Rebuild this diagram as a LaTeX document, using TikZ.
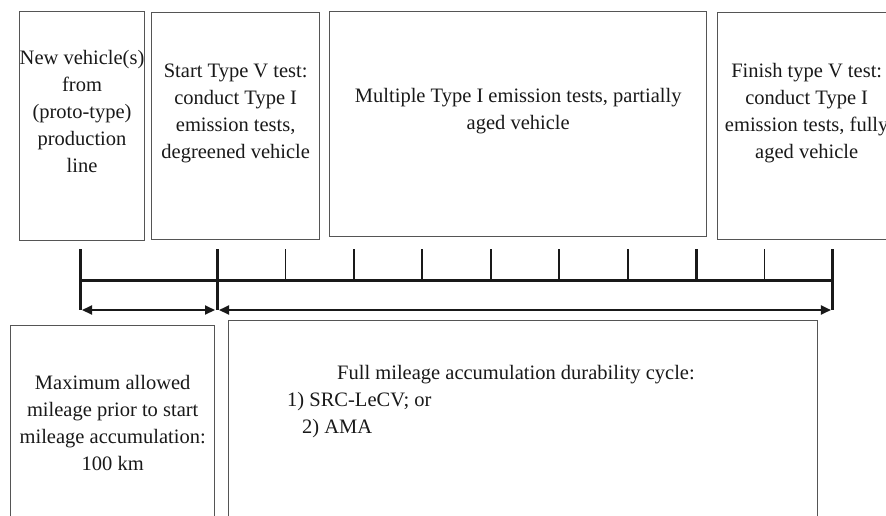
\documentclass[tikz,border=0pt]{standalone}
\usepackage{fontspec}
\setmainfont{Liberation Serif}
\usepackage{tikz}
\usetikzlibrary{arrows.meta,positioning,calc}

\definecolor{boxgray}{RGB}{85,85,85}
\definecolor{inkblack}{RGB}{25,25,25}
\newcommand{\bodyfont}{\fontsize{20.5}{27}\selectfont}

\begin{document}
\begin{tikzpicture}[
  x=1pt, y=-1pt,
  stage/.style={
    draw=boxgray, line width=1.4pt, anchor=north west,
    align=center, font=\bodyfont, text=inkblack, text depth=30pt
  },
  legbox/.style={
    draw=boxgray, line width=1.4pt, anchor=north west,
    align=center, font=\bodyfont, text=inkblack
  },
  major/.style={line width=3pt, draw=inkblack},
  minor/.style={line width=1.8pt, draw=inkblack},
  span/.style={{Triangle[length=10pt,width=9pt]}-{Triangle[length=10pt,width=9pt]},
    line width=2pt, draw=inkblack, shorten <=2pt, shorten >=2pt}
]
\clip (0,0) rectangle (886,515);

% stages of the type V test
\node[stage, inner xsep=0pt, minimum width=124pt, minimum height=229pt] (newveh) at (19,11)
  {New vehicle(s)\\from\\(proto-type)\\production\\line};
\node[stage, minimum width=168pt, minimum height=227pt] (startv) at (151,12)
  {Start Type V test:\\conduct Type I\\emission tests,\\degreened vehicle};
\node[stage, minimum width=377pt, minimum height=225pt] (multi) at (329,11)
  {Multiple Type I emission tests, partially\\aged vehicle};
\node[stage, minimum width=178pt, minimum height=227pt] (finishv) at (717,12)
  {Finish type V test:\\conduct Type I\\emission tests, fully\\aged vehicle};

% mileage boxes
\node[legbox, minimum width=204pt, minimum height=195pt] (maxmil) at (10,325)
  {Maximum allowed\\mileage prior to start\\mileage accumulation:\\100 km};
\node[legbox, minimum width=589pt, minimum height=200pt] (fullcyc) at (228,320) {};
\node[font=\bodyfont, text=inkblack, align=left, anchor=west, inner sep=0pt]
  (cycletext) at ([xshift=59pt, yshift=-82pt]fullcyc.north west)
  {\hspace*{50pt}Full mileage accumulation durability cycle:\\
   1) SRC-LeCV; or\\
   \hspace*{15pt}2) AMA};

% time line
\coordinate (s) at (80,249);
\foreach \k in {0,...,9}
  \coordinate (t\k) at (217+68.44*\k,249);
\coordinate (axis) at (0,280);
\coordinate (row) at (0,310);

\draw[major] (s |- axis) -- (t9 |- axis);
\draw[major] (s) -- (s |- row);
\draw[major] (t0) -- (t0 |- row);
\draw[major] (t9) -- (t9 |- row);
\draw[major] (t7) -- (t7 |- axis);
\foreach \k in {1,...,6,8}
  \draw[minor] (t\k) -- (t\k |- axis);

\draw[span] (s |- row) -- (t0 |- row);
\draw[span] (t0 |- row) -- (t9 |- row);
\end{tikzpicture}
\end{document}
